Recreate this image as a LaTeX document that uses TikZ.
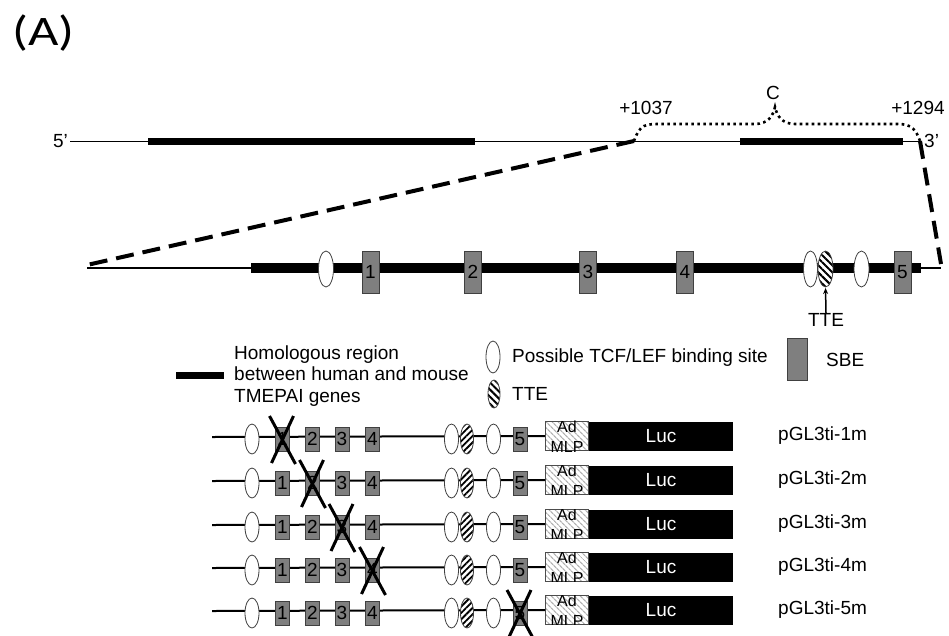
\documentclass[tikz,border=0pt]{standalone}
\usepackage{fontspec}
\setmainfont{Liberation Sans}
\newfontfamily\panelfont{Carlito}
\usetikzlibrary{shapes.geometric,patterns.meta,arrows.meta}

\newcommand\setfs[1]{\fontsize{#1}{#1}\selectfont}
\definecolor{sbegray}{HTML}{7F7F7F}
\definecolor{sbeedge}{HTML}{404040}

\tikzset{
  lbl/.style={inner sep=0pt, font=\setfs{19}},
  % TCF/LEF binding sites
  tcfbig/.style={ellipse, draw=black!75, line width=0.8pt, fill=white, inner sep=0pt,
                 minimum width=15, minimum height=36},
  tcfsmall/.style={ellipse, draw=black!75, line width=0.8pt, fill=white, inner sep=0pt,
                   minimum width=14, minimum height=30},
  % TTE, hatched
  ttebig/.style={ellipse, draw=black!75, line width=0.8pt, inner sep=0pt,
                 minimum width=15, minimum height=36, preaction={fill=white},
                 pattern={Lines[angle=-45,distance=5pt,line width=2pt]}},
  ttesmall/.style={ellipse, draw=black!75, line width=0.8pt, inner sep=0pt,
                   minimum width=13, minimum height=30, preaction={fill=white},
                   pattern={Lines[angle=45,distance=4.5pt,line width=1.8pt]}},
  % SBE boxes
  sbebig/.style={rectangle, draw=sbeedge, line width=0.8pt, fill=sbegray, inner sep=0pt,
                 minimum width=17, minimum height=42, font=\setfs{19}},
  sbesmall/.style={rectangle, draw=sbeedge, line width=0.8pt, fill=sbegray, inner sep=0pt,
                   minimum width=14, minimum height=24, font=\setfs{19}},
  % promoter and reporter
  mlpbox/.style={rectangle, draw=black!70, line width=0.6pt, inner sep=0pt,
                 minimum width=43, minimum height=29, preaction={fill=white},
                 pattern={Lines[angle=-45,distance=4pt,line width=1.2pt]}, pattern color=black!30},
  mlptext/.style={inner sep=0pt, anchor=base, font=\setfs{16}},
  lucbox/.style={rectangle, fill=black, inner sep=0pt, minimum width=144, minimum height=29,
                 text=white, font=\setfs{19}},
  knock/.style={line width=3pt, black},
  homol/.style={line width=7pt, black},
}

\begin{document}
\begin{tikzpicture}[x=1pt, y=-1pt]
\useasboundingbox (0,0) rectangle (949,635);

% panel label
\node[inner sep=0pt, anchor=base west, font=\panelfont\setfs{42}] (panel) at (12,45)
  {\scalebox{1.25}[1]{(A)}};

% ---------------- genomic overview ----------------
\coordinate (g-start) at (70,141);
\coordinate (g-end) at (920,141);
\coordinate (c-left) at (634,141);
\draw[line width=1pt] (g-start) -- (g-end);
\draw[homol] (148,141) -- (475,141);
\draw[homol] (740,141) -- (903,141);
\node[lbl, anchor=east] (five) at (68,141) {5’};
\node[lbl, anchor=west] (three) at (924,141) {3’};

% region C bracket
\draw[line width=2.6pt, dash pattern=on 2.6pt off 3.4pt]
  (c-left) .. controls (640,124) and (645,124) .. (662,124) -- (755,124)
  .. controls (768,124) and (773,116) .. (775,107)
  .. controls (777,116) and (782,124) .. (795,124) -- (898,124)
  .. controls (912,124) and (916,130) .. (g-end);
\node[lbl] (cname) at (773,93) {C};
\node[lbl] (p1037) at (646,108) {+1037};
\node[lbl] (p1294) at (918,108) {+1294};

% ---------------- enlarged region ----------------
\coordinate (m-start) at (87,268);
\coordinate (m-barL) at (251,268);
\coordinate (m-barR) at (921,268);
\coordinate (m-end) at (941,268);
\draw[line width=1.2pt] (m-start) -- (m-barL);
\draw[line width=10pt] (m-barL) -- (m-barR);
\draw[line width=1.2pt] (m-barR) -- (m-end);

\draw[line width=4pt, dash pattern=on 18pt off 9pt] (c-left) -- (87,265);
\draw[line width=4pt, dash pattern=on 18pt off 9pt] (g-end) -- (941,264);

\node[tcfbig] (m-t1) at (326,269) {};
\node[sbebig] (m-s1) at (370.5,272) {1};
\node[sbebig] (m-s2) at (473,272) {2};
\node[sbebig] (m-s3) at (588,272) {3};
\node[sbebig] (m-s4) at (685,272) {4};
\node[tcfbig, minimum width=14] (m-t2) at (810.5,269) {};
\node[ttebig] (m-tte) at (825.5,269) {};
\node[tcfbig] (m-t3) at (861.5,269) {};
\node[sbebig] (m-s5) at (902.5,272) {5};

\node[lbl] (tte-lbl) at (826,320) {TTE};
\draw[line width=1.5pt, -{Stealth[length=6pt,width=5pt]}] (tte-lbl.north) -- (m-tte.south);

% ---------------- legend ----------------
\coordinate (leg-a) at (176,375);
\coordinate (leg-b) at (224,375);
\draw[homol] (leg-a) -- (leg-b);
\node[inner sep=0pt, anchor=west, align=left, font=\fontsize{19}{21.5}\selectfont] (leg-homol) at (234,376)
  {Homologous region\\between human and mouse\\TMEPAI genes};
\node[tcfsmall, minimum width=14, minimum height=32] (leg-tcf) at (493,357) {};
\node[lbl, anchor=west] (leg-tcf-t) at (512,358) {Possible TCF/LEF binding site};
\node[ttebig, minimum width=12, minimum height=28] (leg-tte) at (494,394) {};
\node[lbl, anchor=west] (leg-tte-t) at (512,394) {TTE};
\node[sbebig, minimum width=20, minimum height=42] (leg-sbe) at (797,359) {};
\node[lbl, anchor=west] (leg-sbe-t) at (826,360) {SBE};

% ---------------- reporter constructs ----------------
\foreach \r/\y/\k in {1/437/1, 2/481/2, 3/525/3, 4/568/4, 5/611/5} {
  \coordinate (r\r-start) at (212,\y);
  \node[mlpbox] (r\r-mlp) at (567,\y-1) {};
  \begin{scope}
    \clip (r\r-mlp.south west) rectangle (r\r-mlp.north east);
    \node[mlptext] (r\r-ad) at (567,\y-4.5) {Ad};
    \node[mlptext] (r\r-mlpt) at (567,\y+15) {MLP};
  \end{scope}
  \node[lucbox] (r\r-luc) at (661,\y-1) {Luc};
  \draw[line width=2pt] (r\r-start) -- (r\r-mlp.west);
  \node[tcfsmall] (r\r-t1) at (252,\y+2) {};
  \foreach \i/\x in {1/282.5, 2/312.5, 3/342, 4/372.5} {
    \node[sbesmall] (r\r-s\i) at (\x,\y+2) {\i};
  }
  \node[tcfsmall] (r\r-t2) at (451.5,\y+2) {};
  \node[ttesmall] (r\r-tte) at (467,\y+2) {};
  \node[tcfsmall] (r\r-t3) at (493.5,\y+2) {};
  \node[sbesmall] (r\r-s5) at (520,\y+2) {5};
  % mutated SBE
  \draw[knock] ([shift={(-13,-23)}]r\r-s\k.center) -- ([shift={(13,25)}]r\r-s\k.center);
  \draw[knock] ([shift={(11,-23)}]r\r-s\k.center) -- ([shift={(-11,24)}]r\r-s\k.center);
  \node[lbl, anchor=west] (r\r-name) at (778,\y-1) {pGL3ti-\r m};
}
\end{tikzpicture}
\end{document}
